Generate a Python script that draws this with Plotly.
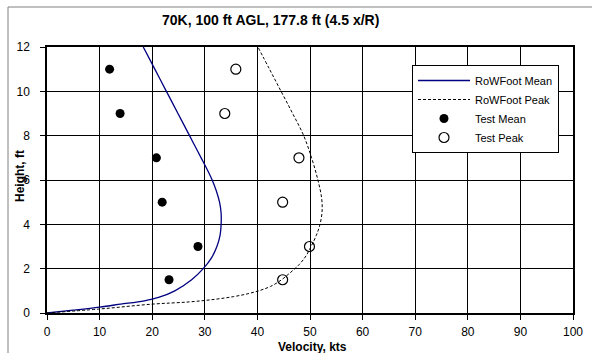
import plotly.graph_objects as go

# RoWFoot model profiles, traced from the ground up (velocity in kts, height in ft)
mean_vel = [0, 5, 10, 14, 18.5, 21.2, 24.3, 27.5, 29.7, 31.3, 32.3, 32.9, 33.1, 33.1, 32.8, 32.2, 31.4, 30.4, 29.3, 28.2, 27.1, 24.9, 22.7, 20.5, 18.3]
mean_hgt = [0, 0.13, 0.27, 0.4, 0.55, 0.7, 1.0, 1.5, 2.0, 2.5, 3.0, 3.5, 4.0, 4.5, 5.0, 5.5, 6.0, 6.5, 7.0, 7.5, 8.0, 9.0, 10.0, 11.0, 12.0]

peak_vel = [0, 10, 20, 27, 32, 35.5, 38.2, 40.5, 42.5, 44.3, 46.0, 48.0, 49.3, 50.2, 51.2, 51.9, 52.3, 52.2, 51.5, 50.3, 48.8, 46.7, 44.5, 42.3, 40.1]
peak_hgt = [0, 0.18, 0.4, 0.5, 0.62, 0.74, 0.87, 1.02, 1.2, 1.45, 1.77, 2.2, 2.6, 3.0, 3.5, 4.0, 4.6, 5.2, 6.0, 7.0, 8.0, 9.0, 10.0, 11.0, 12.0]

# Measured test data
test_hgt = [1.5, 3, 5, 7, 9, 11]
test_mean = [23.2, 28.7, 21.9, 20.8, 13.9, 11.9]
test_peak = [44.8, 49.9, 44.8, 47.9, 33.8, 35.9]

title_text = "70K, 100 ft AGL, 177.8 ft (4.5 x/R)"
x_title = "Velocity, kts"
y_title = "Height, ft"

FONT = "Liberation Sans, Arial, sans-serif"
W, H = 592, 353
ML, MR, MT, MB = 47, 19, 47, 40

fig = go.Figure()
fig.add_trace(go.Scatter(x=mean_vel, y=mean_hgt, mode="lines", name="RoWFoot Mean",
                         line=dict(color="#000080", width=1.3, shape="spline", smoothing=1.0)))
fig.add_trace(go.Scatter(x=peak_vel, y=peak_hgt, mode="lines", name="RoWFoot Peak",
                         line=dict(color="#000000", width=1, dash="3px,2px", shape="spline", smoothing=1.0)))
fig.add_trace(go.Scatter(x=test_mean, y=test_hgt, mode="markers", name="Test Mean",
                         marker=dict(symbol="circle", size=9, color="#000000")))
fig.add_trace(go.Scatter(x=test_peak, y=test_hgt, mode="markers", name="Test Peak",
                         marker=dict(symbol="circle-open", size=10, color="#000000", line=dict(width=1.2))))

pw = W - ML - MR
ph = H - MT - MB

def px_x(p):
    return (p - ML) / pw

def px_y(p):
    return (H - MB - p) / ph

axis_common = dict(showgrid=True, gridcolor="#000000", gridwidth=1,
                   showline=True, linecolor="#000000", linewidth=1.5, mirror=True,
                   ticks="outside", ticklen=5, tickcolor="#000000", tickwidth=1,
                   zeroline=False, automargin=False,
                   tickfont=dict(family=FONT, size=12, color="#000000"))

fig.update_layout(
    width=W, height=H,
    margin=dict(l=ML, r=MR, t=MT, b=MB),
    paper_bgcolor="white", plot_bgcolor="white",
    showlegend=True,
    xaxis=dict(range=[0, 100], dtick=10, ticklabelstandoff=2, **axis_common),
    yaxis=dict(range=[0, 12], dtick=2, ticklabelstandoff=8, **axis_common),
    legend=dict(x=px_x(412), y=px_y(65), xanchor="left", yanchor="top",
                bgcolor="white", bordercolor="#000000", borderwidth=1,
                font=dict(family=FONT, size=11, color="#000000"),
                itemwidth=52, tracegroupgap=0),
    shapes=[dict(type="rect", xref="paper", yref="paper",
                 x0=px_x(8), x1=px_x(W + 10), y0=px_y(H + 10), y1=px_y(7),
                 line=dict(color="#808080", width=1), layer="below")],
    annotations=[
        dict(text="<b>%s</b>" % title_text, xref="paper", yref="paper",
             x=px_x(270), y=px_y(20), xanchor="center", yanchor="middle", showarrow=False,
             font=dict(family=FONT, size=14, color="#000000")),
        dict(text="<b>%s</b>" % x_title, xref="paper", yref="paper",
             x=px_x(312), y=px_y(347), xanchor="center", yanchor="middle", showarrow=False,
             font=dict(family=FONT, size=12, color="#000000")),
        dict(text="<b>%s</b>" % y_title, xref="paper", yref="paper",
             x=px_x(20), y=px_y(176), xanchor="center", yanchor="middle", showarrow=False,
             textangle=-90, font=dict(family=FONT, size=12, color="#000000")),
    ],
)

fig.write_html("out.html")
